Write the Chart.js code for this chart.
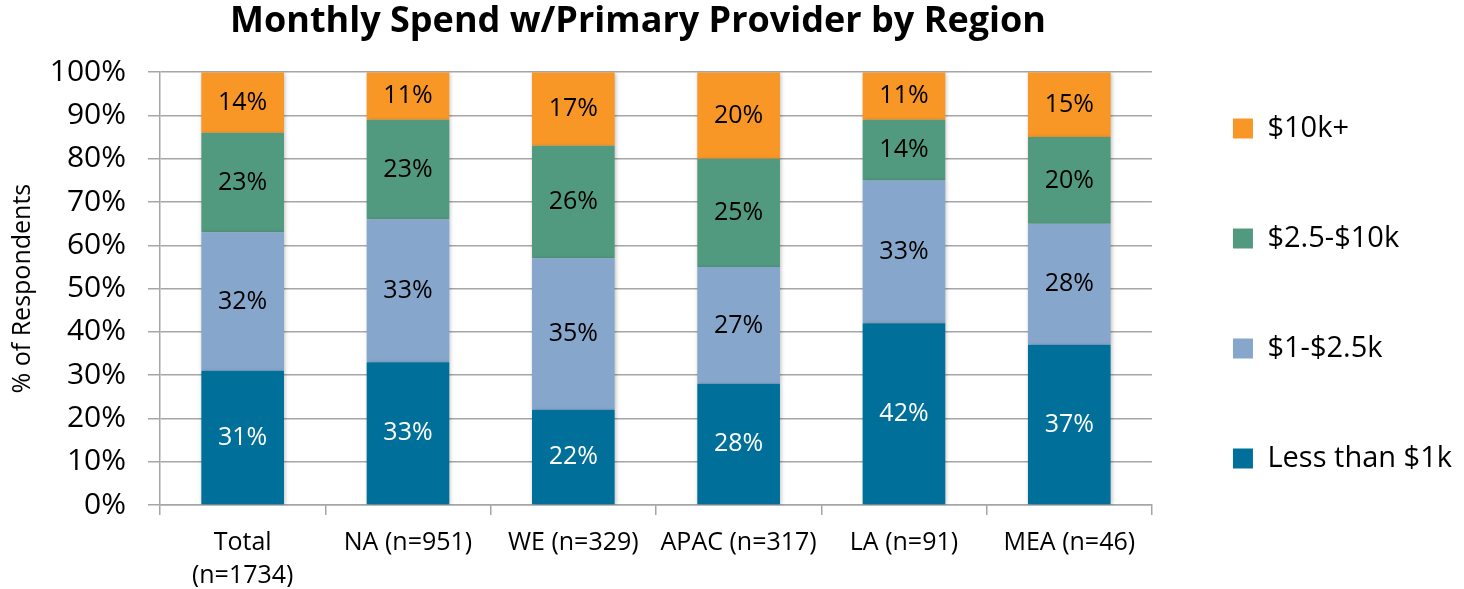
<!DOCTYPE html>
<html>
<head>
<meta charset="utf-8">
<script src="https://cdn.jsdelivr.net/npm/chart.js@4"></script>
<style>
  html, body { margin: 0; padding: 0; background: #fff; }
  #wrap { width: 1464px; height: 589px; }
</style>
</head>
<body>
<div id="wrap"><canvas id="spendChart"></canvas></div>
<script>
// regions on the x axis
const regions = [
  ['Total', '(n=1734)'],
  'NA (n=951)',
  'WE (n=329)',
  'APAC (n=317)',
  'LA (n=91)',
  'MEA (n=46)',
];

// % of respondents per spend bucket (bottom -> top)
const lessThan1k = [31, 33, 22, 28, 42, 37];
const from1to2_5k = [32, 33, 35, 27, 33, 28];
const from2_5to10k = [23, 23, 26, 25, 14, 20];
const over10k = [14, 11, 17, 20, 11, 15];

const yTicks = [0, 10, 20, 30, 40, 50, 60, 70, 80, 90, 100];

const FONT = "'Open Sans', 'Noto Sans', sans-serif";
const GRID = '#a6a6a6';

// write the % inside every segment
const segLabels = {
  id: 'segLabels',
  afterDatasetsDraw(chart) {
    const ctx = chart.ctx;
    ctx.save();
    ctx.font = '25px ' + FONT;
    ctx.textAlign = 'center';
    ctx.textBaseline = 'middle';
    chart.data.datasets.forEach((ds, i) => {
      const meta = chart.getDatasetMeta(i);
      meta.data.forEach((bar, j) => {
        const mid = (bar.y + bar.base) / 2;
        ctx.fillStyle = ds.labelColor;
        ctx.fillText(ds.data[j] + '%', bar.x, mid);
      });
    });
    ctx.restore();
  },
};

// soft shadow behind the bars
const barShadow = {
  id: 'barShadow',
  beforeDatasetsDraw(chart) {
    chart.ctx.save();
    chart.ctx.shadowColor = 'rgba(0,0,0,0.25)';
    chart.ctx.shadowBlur = 4;
    chart.ctx.shadowOffsetX = 1;
    chart.ctx.shadowOffsetY = 1;
  },
  afterDatasetsDraw(chart) { chart.ctx.restore(); },
};

// the title sits a bit left of the plot centre in the original
const titleNudge = {
  id: 'titleNudge',
  afterLayout(chart) {
    if (chart.titleBlock) chart.titleBlock.left -= 36;
  },
};

new Chart(document.getElementById('spendChart'), {
  type: 'bar',
  data: {
    labels: regions,
    datasets: [
      { label: 'Less than $1k', data: lessThan1k,  backgroundColor: '#006f9a', labelColor: '#ffffff' },
      { label: '$1-$2.5k',      data: from1to2_5k, backgroundColor: '#87a6cb', labelColor: '#000000' },
      { label: '$2.5-$10k',     data: from2_5to10k, backgroundColor: '#529a7f', labelColor: '#000000' },
      { label: '$10k+',         data: over10k,     backgroundColor: '#f89626', labelColor: '#000000' },
    ],
  },
  options: {
    responsive: true,
    maintainAspectRatio: false,
    animation: false,
    categoryPercentage: 1,
    barPercentage: 0.5,
    layout: { padding: { left: 4, right: 2, top: 0, bottom: 2 } },
    plugins: {
      title: {
        display: true,
        text: 'Monthly Spend w/Primary Provider by Region',
        fullSize: false,
        color: '#000',
        font: { family: FONT, size: 36, weight: 'bold' },
        padding: { top: 0, bottom: 29 },
      },
      legend: {
        position: 'right',
        reverse: true,
        labels: {
          color: '#000',
          font: { family: FONT, size: 29 },
          boxWidth: 20,
          boxHeight: 20,
          padding: 81,
        },
      },
      tooltip: { enabled: false },
    },
    scales: {
      x: {
        stacked: true,
        afterFit: axis => { axis.height = 82; },
        grid: { display: true, drawOnChartArea: false, offset: true, color: GRID, lineWidth: 1.5, tickLength: 10 },
        border: { color: GRID, width: 1.5 },
        ticks: { color: '#000', font: { family: FONT, size: 25, lineHeight: 1.3 }, padding: 12, maxRotation: 0, autoSkip: false },
      },
      y: {
        stacked: true,
        min: 0,
        max: 100,
        afterFit: axis => { axis.width = 156; },
        afterBuildTicks: axis => { axis.ticks = yTicks.map(v => ({ value: v })); },
        grid: { color: GRID, lineWidth: 1.5, tickLength: 12 },
        border: { color: GRID, width: 1.5 },
        ticks: { color: '#000', font: { family: FONT, size: 30 }, padding: 22, callback: v => v + '%' },
        title: { display: true, text: '% of Respondents', color: '#000', font: { family: FONT, size: 25 }, padding: { top: 4, bottom: 0 } },
      },
    },
  },
  plugins: [barShadow, segLabels, titleNudge],
});
</script>
</body>
</html>
